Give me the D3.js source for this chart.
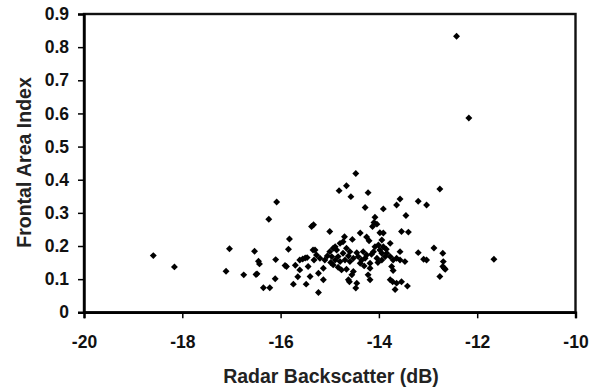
<!DOCTYPE html>
<html><head><meta charset="utf-8">
<script src="https://cdn.jsdelivr.net/npm/d3@7"></script>
<style>body{margin:0;background:#fff;}svg{display:block;}</style>
</head><body>
<svg id="c" width="600" height="390"></svg>
<script>
const xTicks = [-20, -18, -16, -14, -12, -10];
const yTicks = [0, 0.1, 0.2, 0.3, 0.4, 0.5, 0.6, 0.7, 0.8, 0.9];
const xLabel = "Radar Backscatter (dB)";
const yLabel = "Frontal Area Index";
// backscatter (dB)
const backscatter = [
-18.59,-18.16,-17.11,-17.04,-16.75,-16.53,-16.50,-16.48,-16.45,-16.43,-16.35,-16.22,-16.24,-16.08,-16.11,-16.10,
-15.82,-15.84,-15.91,-15.88,-15.74,-15.70,-15.65,-15.55,-15.46,-15.61,-15.44,-15.48,-15.30,-15.27,-15.32,-15.23,
-14.47,-14.66,-14.81,-14.57,-14.22,-12.76,-12.42,-12.17,
-13.57,-13.64,-13.20,-13.03,-14.28,-13.91,-13.45,-14.08,-14.10,-14.04,-14.13,-15.37,-15.33,-15.00,-13.54,-13.40,
-14.38,-13.98,-13.91,-14.70,-14.54,-14.25,-14.20,-13.94,-13.77,-12.88,-13.20,-12.70,-13.09,-13.03,-12.69,-12.70,
-12.67,-12.65,-12.76,-11.66,-13.72,-13.64,-13.67,-13.54,-13.42,-15.23,-15.40,-15.13,-14.62,-14.60,-14.45,-14.47,
-14.22,-14.18,-13.77,
-15.61,-15.50,-15.34,-15.20,-15.13,-15.10,-15.00,-14.93,-14.89,-14.86,-14.96,-14.89,-14.83,-14.79,-14.93,-14.83,
-14.76,-14.73,-14.66,-14.59,-14.69,-14.59,-14.52,-14.66,-14.52,-14.55,-14.42,-14.35,-14.28,-14.25,-14.38,-14.18,
-14.18,-14.11,-14.08,-14.01,-13.98,-13.94,-13.91,-14.04,-13.94,-13.87,-13.84,-13.77,-13.71,-13.64,-13.57,-13.57,
-13.47,-13.74,-13.71,-14.32,-14.79,-14.73,-15.05,-14.98,-14.45,-14.15,-13.85,-14.02,-14.30,-14.62
];
// frontal area index
const fai = [
0.171,0.137,0.124,0.192,0.113,0.184,0.114,0.116,0.154,0.146,0.074,0.074,0.281,0.333,0.101,0.159,
0.221,0.190,0.141,0.138,0.085,0.142,0.107,0.161,0.165,0.128,0.138,0.085,0.188,0.173,0.158,0.118,
0.419,0.382,0.367,0.349,0.361,0.372,0.833,0.586,
0.342,0.324,0.335,0.324,0.316,0.312,0.292,0.287,0.271,0.266,0.259,0.259,0.264,0.244,0.244,0.242,
0.239,0.240,0.239,0.228,0.220,0.227,0.216,0.218,0.208,0.194,0.180,0.178,0.160,0.158,0.153,0.138,
0.133,0.130,0.108,0.160,0.092,0.088,0.069,0.092,0.079,0.060,0.108,0.098,0.098,0.092,0.088,0.073,
0.113,0.098,0.098,
0.158,0.164,0.188,0.163,0.133,0.158,0.183,0.193,0.198,0.188,0.168,0.158,0.168,0.153,0.143,0.136,
0.128,0.178,0.193,0.183,0.158,0.153,0.163,0.130,0.123,0.113,0.168,0.158,0.163,0.173,0.148,0.148,
0.133,0.183,0.198,0.203,0.188,0.178,0.198,0.163,0.158,0.168,0.178,0.168,0.158,0.163,0.183,0.158,
0.153,0.138,0.126,0.183,0.208,0.213,0.170,0.150,0.180,0.175,0.190,0.150,0.140,0.170
];

const W = 600, H = 390;
const m = {left: 84, right: 24.5, top: 14, bottom: 77.7};
const svg = d3.select("#c");
const x = d3.scaleLinear().domain([-20, -10]).range([m.left, W - m.right]);
const y = d3.scaleLinear().domain([0, 0.9]).range([H - m.bottom, m.top]);
const font = "'Liberation Sans', Arial, sans-serif";

// frame
svg.append("rect").attr("x", x(-20)).attr("y", y(0.9))
  .attr("width", x(-10) - x(-20)).attr("height", y(0) - y(0.9))
  .attr("fill", "none").attr("stroke", "#111").attr("stroke-width", 2.4);

const xAxis = svg.append("g").attr("transform", `translate(0,${y(0)})`)
  .call(d3.axisBottom(x).tickValues(xTicks).tickSize(6).tickPadding(17).tickFormat(d => String(d)));
const yAxis = svg.append("g").attr("transform", `translate(${x(-20)},0)`)
  .call(d3.axisLeft(y).tickValues(yTicks).tickSize(6).tickPadding(9)
    .tickFormat(d => d === 0 ? "0" : d3.format(".1f")(d)));
[xAxis, yAxis].forEach(g => {
  g.select(".domain").attr("stroke", "#000").attr("stroke-width", 2.4);
  g.selectAll(".tick line").attr("stroke", "#000").attr("stroke-width", 1.5);
  g.selectAll(".tick text").attr("fill", "#111").style("font-family", font)
    .style("font-size", "17.5px").style("font-weight", "bold");
});

// points
const sym = d3.symbol().type(d3.symbolSquare).size(24);
svg.append("g").selectAll("path")
  .data(backscatter.map((v, i) => [v, fai[i]]))
  .join("path")
  .attr("d", sym)
  .attr("transform", d => `translate(${x(d[0])},${y(d[1])}) rotate(45)`)
  .attr("fill", "#000");

svg.append("text").attr("x", 331).attr("y", 383)
  .attr("text-anchor", "middle").style("font-family", font).attr("fill", "#222")
  .style("font-size", "19.5px").style("font-weight", "bold").text(xLabel);
svg.append("text").attr("transform", `translate(31,${162.5}) rotate(-90)`)
  .attr("text-anchor", "middle").style("font-family", font).attr("fill", "#222")
  .style("font-size", "19.5px").style("font-weight", "bold").text(yLabel);
</script>
</body></html>
